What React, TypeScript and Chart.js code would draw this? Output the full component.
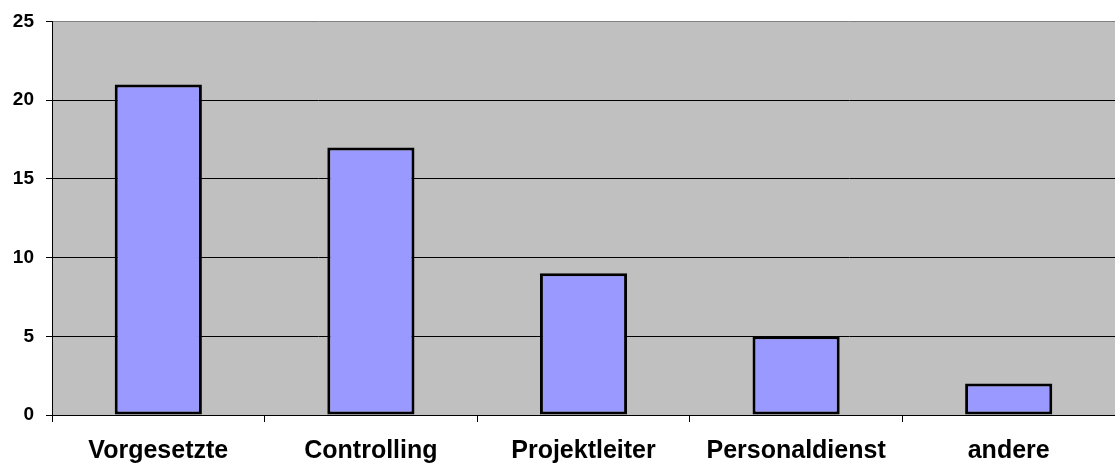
import React, { useEffect, useRef } from "react";
import { Chart, registerables } from "chart.js";

Chart.register(...registerables);

const categories = ["Vorgesetzte", "Controlling", "Projektleiter", "Personaldienst", "andere"];
const values = [21, 17, 9, 5, 2];
const yTicks = [0, 5, 10, 15, 20, 25];

const bgPlugin = {
  id: "plotBg",
  beforeDraw(chart: any) {
    const { ctx, chartArea } = chart;
    if (!chartArea) return;
    ctx.save();
    ctx.fillStyle = "#C0C0C0";
    ctx.fillRect(chartArea.left, chartArea.top, chartArea.right - chartArea.left, chartArea.bottom - chartArea.top);
    ctx.restore();
  },
};

export default function App() {
  const ref = useRef<HTMLCanvasElement>(null);
  useEffect(() => {
    document.body.style.margin = "0";
    const chart = new Chart(ref.current!, {
      type: "bar",
      data: {
        labels: categories,
        datasets: [
          {
            data: values,
            backgroundColor: "#9999FF",
            borderColor: "#000000",
            borderWidth: 3,
            borderSkipped: false,
            categoryPercentage: 1,
            barPercentage: 0.41,
          },
        ],
      },
      options: {
        animation: false,
        responsive: false,
        maintainAspectRatio: false,
        layout: { padding: { top: 20, right: 0, left: 0, bottom: 0 } },
        plugins: { legend: { display: false }, tooltip: { enabled: false } },
        scales: {
          x: {
            offset: true,
            grid: {
              offset: true,
              drawOnChartArea: false,
              drawTicks: true,
              tickLength: 7,
              color: "#000000",
            },
            border: { color: "#000000", width: 1 },
            ticks: {
              color: "#000000",
              font: { family: "'Liberation Sans', Arial", size: 25, weight: "bold" },
              padding: 14,
              maxRotation: 0,
              autoSkip: false,
            },
            afterFit(scale: any) {
              scale.height = 48;
            },
          },
          y: {
            min: 0,
            max: 25,
            afterBuildTicks(scale: any) {
              scale.ticks = yTicks.map((v) => ({ value: v }));
            },
            grid: {
              color: (c: any) => (c.tick && c.tick.value === 25 ? "#808080" : "#000000"),
              tickColor: "#000000",
              tickLength: 6,
              lineWidth: 1,
            },
            border: { color: "#000000", width: 1 },
            ticks: {
              color: "#000000",
              font: { family: "'Liberation Sans', Arial", size: 19, weight: "bold", lineHeight: 1 },
              padding: 12,
            },
            afterFit(scale: any) {
              scale.width = 52;
            },
          },
        },
      },
      plugins: [bgPlugin],
    });
    return () => chart.destroy();
  }, []);
  return (
    <div style={{ position: "absolute", left: 0, top: 0, width: 1115, height: 463 }}>
      <canvas ref={ref} width={1115} height={463} style={{ width: 1115, height: 463 }} />
    </div>
  );
}
